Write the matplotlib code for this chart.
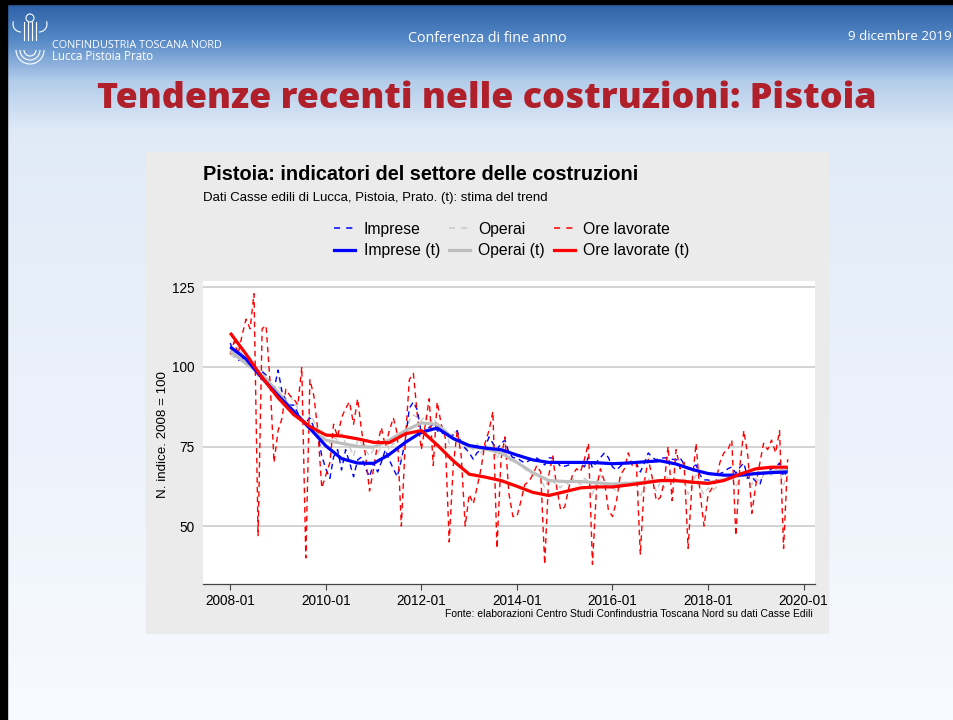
import numpy as np
import pandas as pd
import matplotlib
matplotlib.use("Agg")
import matplotlib.pyplot as plt
import matplotlib.dates as mdates
from matplotlib.patches import Rectangle, Arc
from matplotlib.lines import Line2D

# monthly data, 2008-01 .. 2019-09 (index 2008 = 100)
imprese = [
    107.5, 104, 102, 102.5, 101, 100.5, 99.6, 98.5, 98.5, 97.5, 94, 93,
    99, 92, 89.5, 88, 88, 85.5, 83, 82.5, 84, 81, 79, 72,
    68, 65, 71.7, 74, 67.6, 74, 70, 65.5, 70.8, 71.7, 68, 65.5,
    69.8, 67, 70, 74, 70.8, 68, 65.5, 70.8, 77, 87, 89, 86.5,
    79, 80, 81, 82, 80, 79, 79.6, 78, 78.6, 80, 76, 74.5,
    73, 71, 73, 74, 74.5, 78, 76, 74, 76, 77, 73, 71.5,
    71.4, 70.5, 69.8, 70.5, 71, 71.4, 70.5, 69.2, 71.4, 71.4, 70.5, 68.6,
    68.8, 69.2, 69.6, 70.1, 69.5, 68.6, 71.7, 68.3, 70.1, 71.5, 73, 71.5,
    68.6, 67.6, 68.8, 69.8, 70.1, 70, 69.8, 67, 69.8, 73, 71.5, 70.8,
    71.4, 71.4, 71.4, 71, 70.8, 71.4, 69.5, 68, 68.5, 69.2, 66, 64.5,
    64.5, 64, 63.8, 66.5, 67, 68, 68.6, 66.6, 68.5, 69.8, 65, 65.5,
    64, 63, 67, 67, 68, 68.6, 69.8, 65.5, 67.6]

operai = [
    104, 103, 106, 104, 101, 103, 100, 97, 99, 97, 95, 93,
    94, 92, 90, 91, 89, 87, 86, 82, 85, 83, 80, 77,
    79, 76, 78, 77, 79, 76, 75, 72, 77, 76, 74, 72,
    74, 73, 75, 77, 74, 76, 75, 71, 78, 83, 85, 84,
    83, 85, 82, 84, 82, 80, 81, 76, 80, 79, 76, 74,
    75, 74, 76, 73, 75, 74, 76, 71, 74, 73, 71, 70,
    70, 69, 68, 67, 66, 67, 65, 62, 65, 64, 63, 62,
    64, 63, 65, 64, 63, 65, 64, 60, 64, 66, 64, 62,
    62, 61, 63, 64, 63, 64, 62, 59, 63, 65, 63, 61,
    64, 62, 66, 63, 65, 64, 65, 60, 63, 66, 62, 60,
    62, 61, 62, 64, 65, 66, 65, 62, 66, 67, 64, 63,
    65, 64, 66, 67, 66, 68, 67, 63, 66]

ore = [
    104, 108, 104, 110, 115, 112, 123, 47, 112, 113, 95, 70,
    80, 84, 93, 91, 90, 88, 100, 40, 96, 91, 80, 62,
    66, 70, 82, 78, 84, 87, 89, 82, 90, 80, 72, 61,
    68, 76, 81, 75, 80, 84, 79, 50, 77, 96, 98, 85,
    74, 82, 90, 69, 89, 82, 78, 45, 69, 80, 72, 50,
    60, 57, 62, 68, 76, 80, 86, 43, 71, 78, 60, 53,
    53, 58, 63, 64, 66, 69, 67, 38, 66, 72, 62, 55,
    56, 62, 66, 68, 67, 71, 76, 38, 62, 68, 64, 55,
    53, 58, 66, 68, 73, 69, 70, 41, 64, 71, 65, 58,
    59, 64, 75, 58, 74, 68, 70, 43, 64, 76, 60, 50,
    60, 62, 64, 70, 73, 74, 77, 47, 69, 80, 72, 54,
    63, 70, 76, 74, 77, 73, 80, 43, 71]

# trend estimates, every 4 months from 2008-01
imprese_t = [106.3, 102.5, 96.5, 91, 86, 80.7, 75.2, 71.2, 69.8, 69.7, 72.5, 76.3,
             79.5, 80.8, 77.5, 75.3, 74.5, 74, 72.3, 70.8, 70, 70, 70, 69.9,
             69.6, 69.8, 70.2, 70.5, 69.5, 67.8, 66.5, 66, 66, 66.5, 66.8, 67]
operai_t = [105, 101, 97.5, 92, 86, 80.5, 77, 76, 75, 74.8, 77, 80,
            82.4, 82, 77.5, 75, 74.3, 73, 70, 66.8, 64.3, 64, 64, 63.6,
            63.2, 63.4, 63.8, 64.3, 64.2, 63.7, 63.6, 64.6, 65.8, 66.5, 67, 67.6]
ore_t = [110.7, 104, 96.7, 90.3, 85, 81.3, 78.6, 78.3, 77.4, 76.3, 76.2, 79,
         80, 75.5, 70.5, 66.3, 65.4, 64.3, 62.5, 60.6, 59.6, 60.8, 62, 62.3,
         62.3, 62.9, 63.6, 64.3, 64.3, 63.8, 63.4, 64.3, 66.3, 68, 68.5, 68.5]

months = pd.date_range("2008-01-01", periods=len(ore), freq="MS")
months_t = pd.date_range("2008-01-01", periods=len(ore_t), freq="4MS")

W, H = 954, 720
fig = plt.figure(figsize=(W / 100, H / 100), dpi=100)


def box(x0, y0, x1, y1):
    # pixel box (top-left origin) -> figure rect
    return [x0 / W, 1 - y1 / H, (x1 - x0) / W, (y1 - y0) / H]


# slide background: blue header fading to white
bg = fig.add_axes([0, 0, 1, 1], zorder=-10)
yy = np.arange(H)
stops = [0, 40, 80, 130, 720]
cols = np.array([[0.16, 0.36, 0.64], [0.34, 0.54, 0.78], [0.70, 0.80, 0.92],
                 [0.88, 0.92, 0.97], [0.97, 0.98, 1.0]])
grad = np.stack([np.interp(yy, stops, cols[:, k]) for k in range(3)], axis=-1)
bg.imshow(grad[:, None, :], aspect="auto", extent=[0, W, H, 0])
bg.set_xlim(0, W)
bg.set_ylim(H, 0)
bg.axis("off")
bg.add_patch(Rectangle((0, 0), 7, H, color="black"))
bg.add_patch(Rectangle((0, 0), W, 4, color="black"))

# rough logo mark
for r in (6, 10, 14):
    bg.add_patch(Arc((30, 50), 2 * r, 2 * r, theta1=0, theta2=180, color="white", lw=0.8))
for xv in (24, 28, 32, 36):
    bg.plot([xv, xv], [22, 40], color="white", lw=0.8)
bg.add_patch(Arc((21, 24), 16, 16, theta1=90, theta2=200, color="white", lw=0.8))
bg.add_patch(Arc((39, 24), 16, 16, theta1=-20, theta2=90, color="white", lw=0.8))
bg.add_patch(Arc((30, 18), 8, 8, theta1=0, theta2=360, color="white", lw=0.8))

# header texts
bg.text(52, 45, "CONFINDUSTRIA TOSCANA NORD", color="white", fontsize=7.8,
        family="Open Sans", va="center", ha="left")
bg.text(52, 57, "Lucca Pistoia Prato", color="white", fontsize=8.3,
        family="Open Sans", va="center", ha="left")
bg.text(487, 38, "Conferenza di fine anno", color="white", fontsize=10.3,
        family="Open Sans", va="center", ha="center")
bg.text(952, 37, "9 dicembre 2019", color="white", fontsize=9.6,
        family="Open Sans", va="center", ha="right")
bg.text(487, 99, "Tendenze recenti nelle costruzioni: Pistoia", color="#B0202A",
        fontsize=25.8, family="Open Sans", weight="heavy", va="center", ha="center")

# chart card
bg.add_patch(Rectangle((146, 152), 828 - 146, 633 - 152, color="#EBEBEB"))
bg.text(203, 174, "Pistoia: indicatori del settore delle costruzioni",
        fontsize=14.3, weight="bold", family="Liberation Sans", va="center")
bg.text(203, 198, "Dati Casse edili di Lucca, Pistoia, Prato. (t): stima del trend",
        fontsize=9.5, family="Liberation Sans", va="center")
bg.text(813, 614, "Fonte: elaborazioni Centro Studi Confindustria Toscana Nord su dati Casse Edili",
        fontsize=7.45, family="Liberation Sans", va="center", ha="right")
bg.text(163, 435, "N. indice. 2008 = 100", fontsize=9.6, family="Liberation Sans",
        rotation=90, va="center", ha="center")

ax = fig.add_axes(box(203, 281, 815, 584))
ax.set_facecolor("white")

dash = (0, (4, 3))
ax.plot(months, operai, color="#C8C8C8", lw=1.0, linestyle=dash)
ax.plot(months, imprese, color="#0000FF", lw=1.0, linestyle=dash)
ax.plot(months, ore, color="#FF0000", lw=1.0, linestyle=dash)
ax.plot(months_t, operai_t, color="#BEBEBE", lw=2.3, solid_capstyle="butt")
ax.plot(months_t, imprese_t, color="#0000FF", lw=2.3, solid_capstyle="butt")
ax.plot(months_t, ore_t, color="#FF0000", lw=2.3, solid_capstyle="butt")

ax.set_ylim(31.8, 127)
ax.set_xlim(pd.Timestamp("2007-06-07"), pd.Timestamp("2020-03-28"))
ax.set_yticks([50, 75, 100, 125])
ax.grid(axis="y", color="#D0D0D0", lw=1.3)
ax.set_axisbelow(True)
ax.set_xticks(pd.date_range("2008-01-01", "2020-01-01", freq="24MS"))
ax.xaxis.set_major_formatter(mdates.DateFormatter("%Y-%m"))
for s in ["top", "right", "left"]:
    ax.spines[s].set_visible(False)
ax.spines["bottom"].set_color("#444444")
ax.spines["bottom"].set_linewidth(0.9)
ax.tick_params(axis="x", length=4, width=0.8, color="#444444", labelsize=9.8, pad=3)
ax.tick_params(axis="y", length=0, labelsize=9.8, pad=6)
for lab in ax.get_xticklabels() + ax.get_yticklabels():
    lab.set_family("Liberation Sans")

handles = [
    Line2D([], [], color="#0000FF", lw=1.1, linestyle=(0, (4, 4))),
    Line2D([], [], color="#0000FF", lw=2.3),
    Line2D([], [], color="#C8C8C8", lw=1.1, linestyle=(0, (4, 4))),
    Line2D([], [], color="#BEBEBE", lw=2.3),
    Line2D([], [], color="#FF0000", lw=1.1, linestyle=(0, (4, 4))),
    Line2D([], [], color="#FF0000", lw=2.3),
]
labels = ["Imprese", "Imprese (t)", "Operai", "Operai (t)", "Ore lavorate", "Ore lavorate (t)"]
fig.legend(handles, labels, ncol=3, loc="center", bbox_to_anchor=(512 / W, 1 - 240 / H),
           frameon=False, prop={"family": "Liberation Sans", "size": 11.3},
           handlelength=1.3, handletextpad=0.55, columnspacing=0.6, labelspacing=0.4,
           borderpad=0.2)

fig.savefig("out.png", dpi=100)
